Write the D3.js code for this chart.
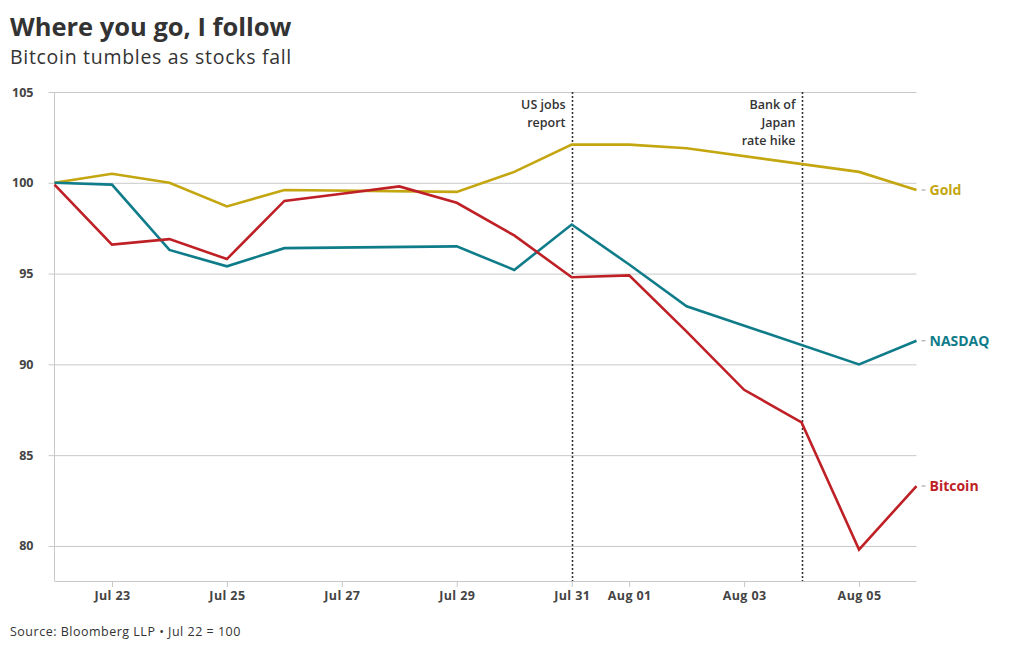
<!DOCTYPE html>
<html><head><meta charset="utf-8">
<script src="https://cdn.jsdelivr.net/npm/d3@7"></script>
<style>
body{margin:0;background:#fff;font-family:"Open Sans",sans-serif;}
</style></head>
<body><svg id="c" width="1020" height="650"></svg>
<script>
const goldDates = ["2024-07-22","2024-07-23","2024-07-24","2024-07-25","2024-07-26","2024-07-29","2024-07-30","2024-07-31","2024-08-01","2024-08-02","2024-08-05","2024-08-06"];
const goldValues = [100,100.5,100,98.7,99.6,99.5,100.6,102.1,102.1,101.9,100.6,99.6];
const nasdaqDates = goldDates;
const nasdaqValues = [100,99.9,96.3,95.4,96.4,96.5,95.2,97.7,95.5,93.2,90.0,91.3];
const bitcoinDates = ["2024-07-22","2024-07-23","2024-07-24","2024-07-25","2024-07-26","2024-07-27","2024-07-28","2024-07-29","2024-07-30","2024-07-31","2024-08-01","2024-08-02","2024-08-03","2024-08-04","2024-08-05","2024-08-06"];
const bitcoinValues = [99.9,96.6,96.9,95.8,99.0,99.4,99.8,98.9,97.1,94.8,94.9,91.8,88.6,86.8,79.8,83.3];
const yTicks = [80,85,90,95,100,105];
const xTicks = ["2024-07-23","2024-07-25","2024-07-27","2024-07-29","2024-07-31","2024-08-01","2024-08-03","2024-08-05"];
const events = [{date:"2024-07-31",label:["US jobs","report"]},{date:"2024-08-04",label:["Bank of","Japan","rate hike"]}];
const seriesNames = ["Gold","NASDAQ","Bitcoin"];
const seriesColors = ["#c4a611","#0f7c8a","#be2026"];

const FONT = "'Open Sans', sans-serif";
const parse = d3.utcParse("%Y-%m-%d");
const svg = d3.select("#c");
const L=54.5, R=916.5, T=92, B=581;
const x = d3.scaleUtc().domain([parse("2024-07-22"),parse("2024-08-06")]).range([L,R]);
const y = d3.scaleLinear().domain([78.07,105]).range([B,T]);

svg.append("text").attr("x",10).attr("y",36).text("Where you go, I follow")
  .attr("font-size",25.5).attr("font-weight",700).attr("fill","#333").attr("font-family",FONT);
svg.append("text").attr("x",10).attr("y",64).text("Bitcoin tumbles as stocks fall")
  .attr("font-size",19.5).attr("fill","#333").attr("font-family",FONT).attr("letter-spacing",0.7);

// grid
const yAxis = svg.append("g").attr("transform",`translate(${L},0)`)
  .call(d3.axisLeft(y).tickValues(yTicks).tickSize(6).tickFormat(d3.format("d")));
yAxis.select(".domain").remove();
yAxis.selectAll(".tick line").attr("stroke","#c8c8c8").attr("x1",-6).attr("x2",R-L);
yAxis.selectAll(".tick text").attr("x",-21).attr("font-size",12.5).attr("font-weight",700)
  .attr("fill","#444").attr("font-family",FONT);
svg.append("line").attr("x1",L).attr("x2",L).attr("y1",T).attr("y2",B).attr("stroke","#c8c8c8");

const xAxis = svg.append("g").attr("transform",`translate(0,${B})`)
  .call(d3.axisBottom(x).tickValues(xTicks.map(parse)).tickSize(6).tickFormat(d3.utcFormat("%b %d")));
xAxis.select(".domain").attr("stroke","#c8c8c8").attr("d",`M${L},0.5H${R}`);
xAxis.selectAll(".tick line").attr("stroke","#c8c8c8");
xAxis.selectAll(".tick text").attr("y",10).attr("font-size",12.5).attr("font-weight",700)
  .attr("fill","#444").attr("font-family",FONT).attr("letter-spacing",0.4);

// events
events.forEach(e=>{
  const ex = Math.round(x(parse(e.date)))+0.5;
  svg.append("line").attr("x1",ex).attr("x2",ex).attr("y1",T).attr("y2",B)
    .attr("stroke","#333").attr("stroke-width",1.6).attr("stroke-dasharray","2,2");
  e.label.forEach((t,i)=>{
    svg.append("text").attr("x",ex-7).attr("y",109+i*18).attr("text-anchor","end")
      .attr("font-size",12.5).attr("font-weight",600).attr("fill","#333").attr("font-family",FONT).text(t);
  });
});

const line = d3.line().x(d=>x(d[0])).y(d=>y(d[1]));
const series = [
  {dates:goldDates,values:goldValues},
  {dates:nasdaqDates,values:nasdaqValues},
  {dates:bitcoinDates,values:bitcoinValues}
];
series.forEach((s,i)=>{
  const pts = s.dates.map((d,j)=>[parse(d),s.values[j]]);
  svg.append("path").datum(pts).attr("d",line).attr("fill","none")
    .attr("stroke",seriesColors[i]).attr("stroke-width",2.6).attr("stroke-linejoin","miter");
  const last = pts[pts.length-1];
  const ly = y(last[1]);
  svg.append("line").attr("x1",R+5).attr("x2",R+9).attr("y1",ly).attr("y2",ly).attr("stroke","#999");
  svg.append("text").attr("x",R+13).attr("y",ly+5).text(seriesNames[i])
    .attr("font-size",14).attr("font-weight",700).attr("fill",seriesColors[i]).attr("font-family",FONT);
});

svg.append("text").attr("x",10).attr("y",636).text("Source: Bloomberg LLP \u2022 Jul 22 = 100")
  .attr("font-size",12.5).attr("fill","#333").attr("font-family",FONT).attr("letter-spacing",0.5);
</script></body></html>
